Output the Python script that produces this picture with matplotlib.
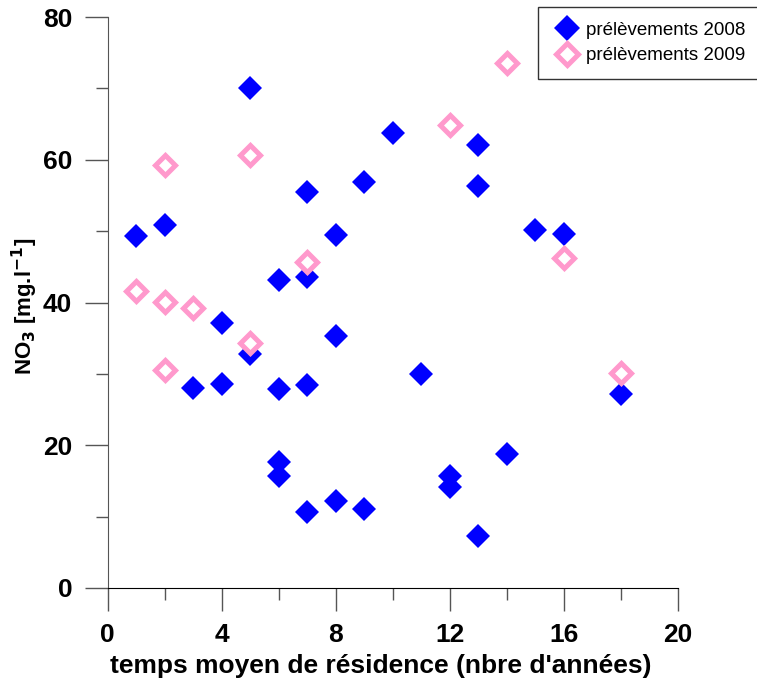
import matplotlib
matplotlib.use("Agg")
import matplotlib.pyplot as plt
from matplotlib.ticker import MultipleLocator

plt.rcParams['font.family'] = ['Liberation Sans', 'DejaVu Sans']

# samples 2008
x_2008 = [1, 2, 3, 4, 4, 5, 5, 6, 6, 6, 6, 7, 7, 7, 7, 8, 8, 8, 9, 9,
          10, 11, 12, 12, 13, 13, 13, 14, 15, 16, 18]
y_2008 = [49.3, 50.8, 28.0, 37.1, 28.6, 70.0, 32.8, 43.2, 27.9, 17.7, 15.7,
          55.5, 43.6, 28.4, 10.7, 49.5, 35.3, 12.2, 56.9, 11.1,
          63.7, 30.0, 15.7, 14.2, 62.1, 56.3, 7.3, 18.8, 50.2, 49.6, 27.2]

# samples 2009
x_2009 = [1, 2, 2, 2, 3, 5, 5, 7, 12, 14, 16, 18]
y_2009 = [41.6, 59.3, 40.1, 30.5, 39.2, 60.7, 34.3, 45.7, 64.9, 73.6, 46.2, 30.1]

fig = plt.figure(figsize=(7.57, 6.81), dpi=100)
ax = fig.add_axes([0.1423, 0.1366, 0.7534, 0.8384])

ax.plot(x_2008, y_2008, linestyle='none', marker='D', markersize=12,
        color='#0000ff', markeredgewidth=0, label='prélèvements 2008', clip_on=False)
ax.plot(x_2009, y_2009, linestyle='none', marker='D', markersize=10,
        markerfacecolor='white', markeredgecolor='#ff99cc', markeredgewidth=3.6,
        label='prélèvements 2009', clip_on=False)

ax.set_xlim(0, 20)
ax.set_ylim(0, 80)
ax.xaxis.set_major_locator(MultipleLocator(4))
ax.xaxis.set_minor_locator(MultipleLocator(2))
ax.yaxis.set_major_locator(MultipleLocator(20))
ax.yaxis.set_minor_locator(MultipleLocator(10))

for s in ['top', 'right']:
    ax.spines[s].set_visible(False)
ax.spines['left'].set_color('#555555')
ax.spines['bottom'].set_color('black')
ax.tick_params(which='major', direction='out', length=16.5, width=1, color='#555555',
               labelsize=19, pad=9)
ax.tick_params(which='minor', direction='out', length=8.5, width=1, color='#555555')
for lab in ax.get_xticklabels() + ax.get_yticklabels():
    lab.set_fontweight('bold')

ax.set_xlabel("temps moyen de résidence (nbre d'années)", fontsize=19,
              fontweight='bold')
ax.xaxis.set_label_coords(0.479, -0.115)
ax.set_ylabel("NO$_\\mathbf{3}$ [mg.l$^\\mathbf{-1}$]", fontsize=16,
              fontweight='bold')
ax.yaxis.set_label_coords(-0.118, 0.494)

leg = ax.legend(loc='upper right', bbox_to_anchor=(1.005, 0.99),
                bbox_transform=fig.transFigure, fontsize=13.5, frameon=True,
                fancybox=False, shadow=False, borderpad=0.8, handletextpad=0.3,
                handlelength=1.5, labelspacing=0.45, borderaxespad=0,
                markerscale=1.1)
leg.get_frame().set_edgecolor('black')
leg.get_frame().set_linewidth(1)

fig.savefig('out.png', dpi=100)
